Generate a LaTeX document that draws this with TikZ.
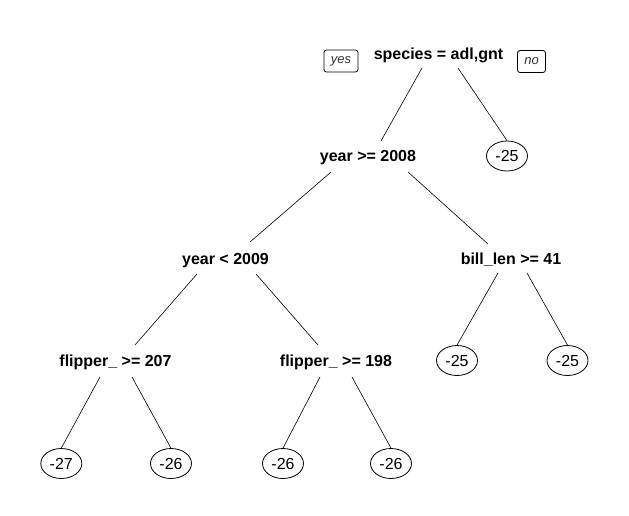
\documentclass[tikz,border=0pt]{standalone}
\usepackage{fontspec}
\setmainfont{Liberation Sans}
\usetikzlibrary{calc,shapes.geometric}
\tikzset{
  splitnode/.style={inner sep=0pt, font=\fontsize{16}{18}\selectfont\bfseries, text height=11.5pt, text depth=0pt},
  leafnode/.style={draw, ellipse, line width=0.8pt, inner sep=0pt, minimum width=41pt, minimum height=30pt,
     font=\fontsize{16}{18}\selectfont, text height=11.5pt, text depth=0pt},
  tagbox/.style={draw, rounded corners=2.5pt, line width=0.8pt, inner sep=0pt, minimum height=22pt,
     font=\fontsize{13}{15}\selectfont\itshape, text=black!80},
  branch/.style={line width=0.6pt}
}
\begin{document}
\begin{tikzpicture}[x=1pt,y=-1pt]
\useasboundingbox[fill=white] (0,0) rectangle (629,515);
% split nodes
\node[splitnode] (R) at (438.5,53.5) {species = adl,gnt};
\node[splitnode] (A) at (368,156) {year >= 2008};
\node[splitnode] (B) at (225.5,258.5) {year < 2009};
\node[splitnode] (C) at (511,258.5) {bill\_len >= 41};
\node[splitnode] (D) at (115.5,361) {flipper\_ >= 207};
\node[splitnode] (E) at (336,361) {flipper\_ >= 198};
% leaves
\node[leafnode] (L1) at (507,156) {-25};
\node[leafnode] (L2) at (457,360.5) {-25};
\node[leafnode] (L3) at (567.5,360.5) {-25};
\node[leafnode] (L4) at (61.3,463.5) {-27};
\node[leafnode] (L5) at (171,463.5) {-26};
\node[leafnode] (L6) at (283,463.5) {-26};
\node[leafnode] (L7) at (391,463.5) {-26};
% yes / no tags
\node[tagbox, minimum width=34pt] (yes) at (341,61) {yes};
\node[tagbox, minimum width=28pt] (no) at (531.5,61.5) {no};
% branches
\draw[branch] ($(R)+(-16.5,14.5)$) -- ($(A)+(13,-15)$);
\draw[branch] ($(R)+(19.5,14.5)$) -- (L1.north);
\draw[branch] ($(A)+(-37,16)$) -- ($(B)+(24.5,-16.5)$);
\draw[branch] ($(A)+(40,16)$) -- ($(C)+(-23,-14.5)$);
\draw[branch] ($(B)+(-28.5,15.5)$) -- ($(D)+(19.5,-16)$);
\draw[branch] ($(B)+(30.5,15.5)$) -- ($(E)+(-18,-16)$);
\draw[branch] ($(C)+(-13,14.5)$) -- (L2.north);
\draw[branch] ($(C)+(16,14.5)$) -- (L3.north);
\draw[branch] ($(D)+(-15.5,16)$) -- (L4.north);
\draw[branch] ($(D)+(16.5,16)$) -- (L5.north);
\draw[branch] ($(E)+(-16,16)$) -- (L6.north);
\draw[branch] ($(E)+(16,16)$) -- (L7.north);
\end{tikzpicture}
\end{document}
